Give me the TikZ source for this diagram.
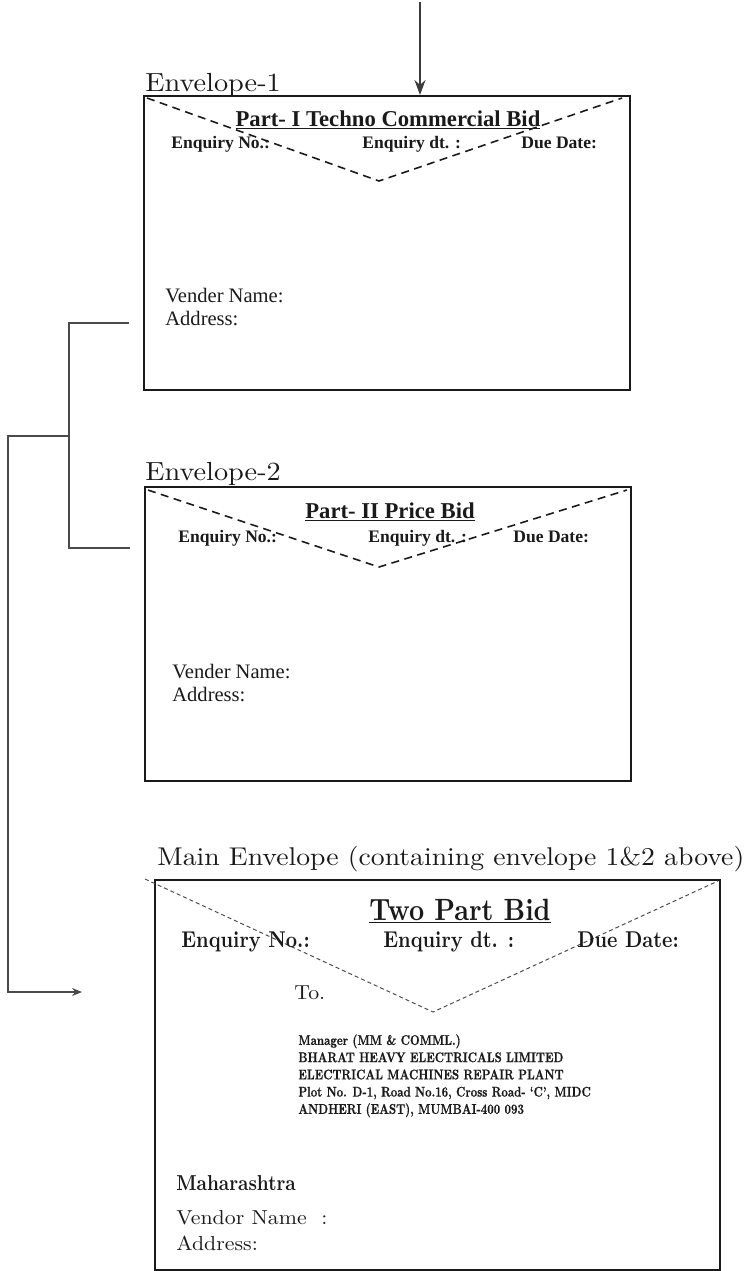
\documentclass[tikz,border=0pt]{standalone}
\usepackage{fontspec}
\usepackage{tikz}
\usetikzlibrary{positioning,arrows.meta,fit}
\newfontfamily\tnr{Liberation Serif}
\newfontfamily\cmrw[FakeStretch=1.08]{lmroman10-regular.otf}
\newfontfamily\cmbd[FakeStretch=0.86]{lmroman10-bold.otf}
\newfontfamily\cmbc[FakeStretch=0.80,FakeBold=0.6]{lmroman10-bold.otf}
\definecolor{ink}{HTML}{1A1A1A}
\definecolor{wire}{HTML}{4A4A4A}
\tikzset{
  env/.style={draw=ink, line width=1.1pt, inner sep=0pt},
  flap/.style={draw=ink, line width=0.9pt, dash pattern=on 1.6mm off 1.1mm},
  flapfine/.style={draw=ink!80, line width=0.55pt, dash pattern=on 0.8mm off 0.6mm},
  txt/.style={anchor=base west, inner sep=0pt, text=ink},
  lbl/.style={txt, font=\cmrw\fontsize{14.9}{18}\selectfont},
  ttl/.style={anchor=base, inner sep=0pt, text=ink, font=\tnr\bfseries\fontsize{12.9}{15}\selectfont},
  enq/.style={txt, font=\tnr\bfseries\fontsize{10}{12}\selectfont},
  vnd/.style={txt, font=\tnr\fontsize{11.7}{13}\selectfont},
  menq/.style={txt, font=\cmbd\fontsize{13}{15}\selectfont},
  mtxt/.style={txt, font=\cmrw\fontsize{11.5}{14}\selectfont},
  link/.style={draw=wire, line width=0.6pt},
  feed/.style={draw=ink!85, line width=1.3pt, -{Stealth[length=3mm,width=2.2mm]}},
}

\begin{document}
\begin{tikzpicture}[x=0.2mm, y=-0.2mm]
  \useasboundingbox (0,0) rectangle (748,1271);
  % envelope 1
  \node[env, fit={(144,96) (630,390)}] (e1) {};
  \node[lbl] (e1lbl) at (145,91) {Envelope-1};
  \draw[flap] (147,98) -- (379,181) -- (622,98);
  \node[ttl] (e1ttl) at (388,126) {\underline{Part- I Techno Commercial Bid}};
  \node[enq] (e1no) at (171,148) {Enquiry No.:};
  \node[enq] (e1dt) at (362,148) {Enquiry dt. :};
  \node[enq] (e1due) at (521,148) {Due Date:};
  \node[vnd] (e1name) at (165,302) {Vender Name:};
  \node[vnd] (e1addr) at (165,325) {Address:};
  \coordinate (src) at (420,2);
  \draw[feed] (src) -- (src |- e1.north);

  % envelope 2
  \node[env, fit={(145,487) (631,781)}] (e2) {};
  \node[lbl] (e2lbl) at (145,480) {Envelope-2};
  \draw[flap] (148,490) -- (379,567) -- (627,490);
  \node[ttl] (e2ttl) at (390,518) {\underline{Part- II Price Bid}};
  \node[enq] (e2no) at (178,542) {Enquiry No.:};
  \node[enq] (e2dt) at (368,542) {Enquiry dt. :};
  \node[enq] (e2due) at (513,542) {Due Date:};
  \node[vnd] (e2name) at (172,678) {Vender Name:};
  \node[vnd] (e2addr) at (172,701) {Address:};

  % main envelope
  \node[lbl, font=\cmrw\fontsize{14.6}{18}\selectfont] (mlbl) at (157,865) {Main Envelope (containing envelope 1\&2 above)};
  \node[env, fit={(155,880) (720,1270)}] (me) {};
  \draw[flapfine] (145,879) -- (433,1012) -- (718,881);
  \node[anchor=base, inner sep=0pt, text=ink, font=\cmbd\fontsize{17.5}{20}\selectfont] (mttl) at (460,920) {\underline{Two Part Bid}};
  \node[menq] (mno) at (181,947) {Enquiry No.:};
  \node[menq] (mdt) at (383,947) {Enquiry dt. :};
  \node[menq] (mdue) at (577,947) {Due Date:};
  \node[mtxt] (mto) at (294,999) {To.};
  \node[anchor=north west, inner sep=0pt, align=left, text=ink, font=\cmbc\fontsize{8}{9.8}\selectfont] (maddr) at (298,1034)
    {Manager (MM \& COMML.)\\ BHARAT HEAVY ELECTRICALS LIMITED\\ ELECTRICAL MACHINES REPAIR PLANT\\
     Plot No. D-1, Road No.16, Cross Road- ‘C’, MIDC\\ ANDHERI (EAST), MUMBAI-400 093};
  \node[txt, font=\cmbd\fontsize{12.3}{14}\selectfont] (mstate) at (176,1190) {Maharashtra};
  \node[mtxt] (mname) at (176,1224) {Vendor Name\ \ :};
  \node[mtxt] (maddr2) at (176,1250) {Address:};

  % links on the left
  \coordinate (c1) at (129,323);
  \coordinate (c2) at (130,548);
  \coordinate (j1) at (69,436);
  \coordinate (bend) at (8,436);
  \coordinate (c3) at (82,992);
  \draw[link] (c1) -| (j1) |- (c2);
  \draw[link, -{Stealth[length=2mm,width=1.6mm]}] (j1) -- (bend) |- (c3);
\end{tikzpicture}
\end{document}
